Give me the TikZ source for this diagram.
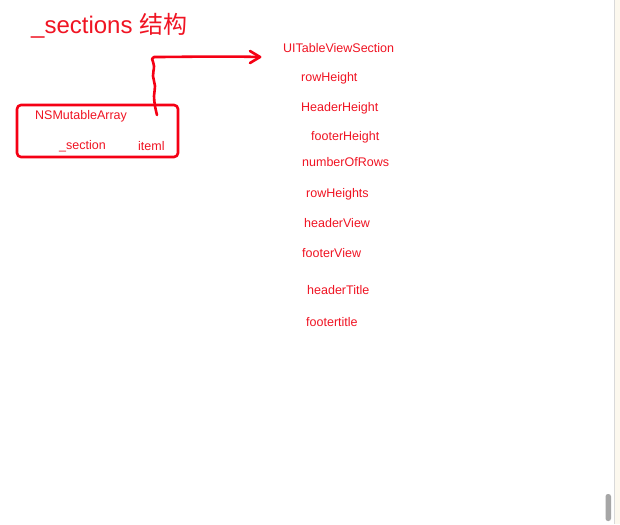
\documentclass[tikz,border=0pt]{standalone}
\usepackage{fontspec}
\setmainfont{Liberation Sans}
\newfontfamily\cjkfont{Noto Sans CJK SC}
\definecolor{lbl}{RGB}{240,20,35}
\definecolor{stroke}{RGB}{245,0,20}
\definecolor{cream}{RGB}{252,248,238}
\begin{document}
\begin{tikzpicture}[x=1pt,y=-1pt,
  lab/.style={anchor=west,inner sep=0pt,text=lbl,font=\fontsize{12.5}{14}\selectfont},
  pen/.style={draw=stroke,line width=2.6pt,line cap=round,line join=round}]
\useasboundingbox (0,0) rectangle (620,524);
\fill[white] (0,0) rectangle (620,524);
\fill[cream] (615,0) rectangle (620,524);
\draw[gray!30,line width=1pt] (614.5,0) -- (614.5,524);
\fill[gray!70,rounded corners=2.5pt] (605.5,494) rectangle (611,521);
% title
\node[anchor=west,inner sep=0pt,text=lbl,font=\fontsize{24}{27}\selectfont] (title) at (31,26) {\_sections \cjkfont 结构};
% box
\draw[pen,rounded corners=4pt] (17,105) rectangle (178,157);
\node[lab] (arr) at (35,116) {NSMutableArray};
\node[lab] (sec) at (59,146) {\_section};
\node[lab] (item) at (138,146) {iteml};
% right column
\node[lab] (uts) at (283,48) {UITableViewSection};
\node[lab] (rh) at (301,78) {rowHeight};
\node[lab] (hh) at (301,108) {HeaderHeight};
\node[lab] (fh) at (311,137) {footerHeight};
\node[lab] (nr) at (302,162) {numberOfRows};
\node[lab] (rhs) at (306,194) {rowHeights};
\node[lab] (hv) at (304,223) {headerView};
\node[lab] (fv) at (302,253) {footerView};
\node[lab] (ht) at (307,290) {headerTitle};
\node[lab] (ft) at (306,322) {footertitle};
% hand-drawn arrow
\coordinate (s) at (157,115);
\coordinate (tip) at (260,57);
\draw[pen] plot[smooth,tension=0.6] coordinates {(s) (155,106) (154,96) (155,86) (153,76) (154,66) (152,59)}
  -- (154,57) .. controls (180,57) and (220,56) .. (tip);
\draw[pen] (250,51) -- (tip) -- (250,63);
\end{tikzpicture}
\end{document}
